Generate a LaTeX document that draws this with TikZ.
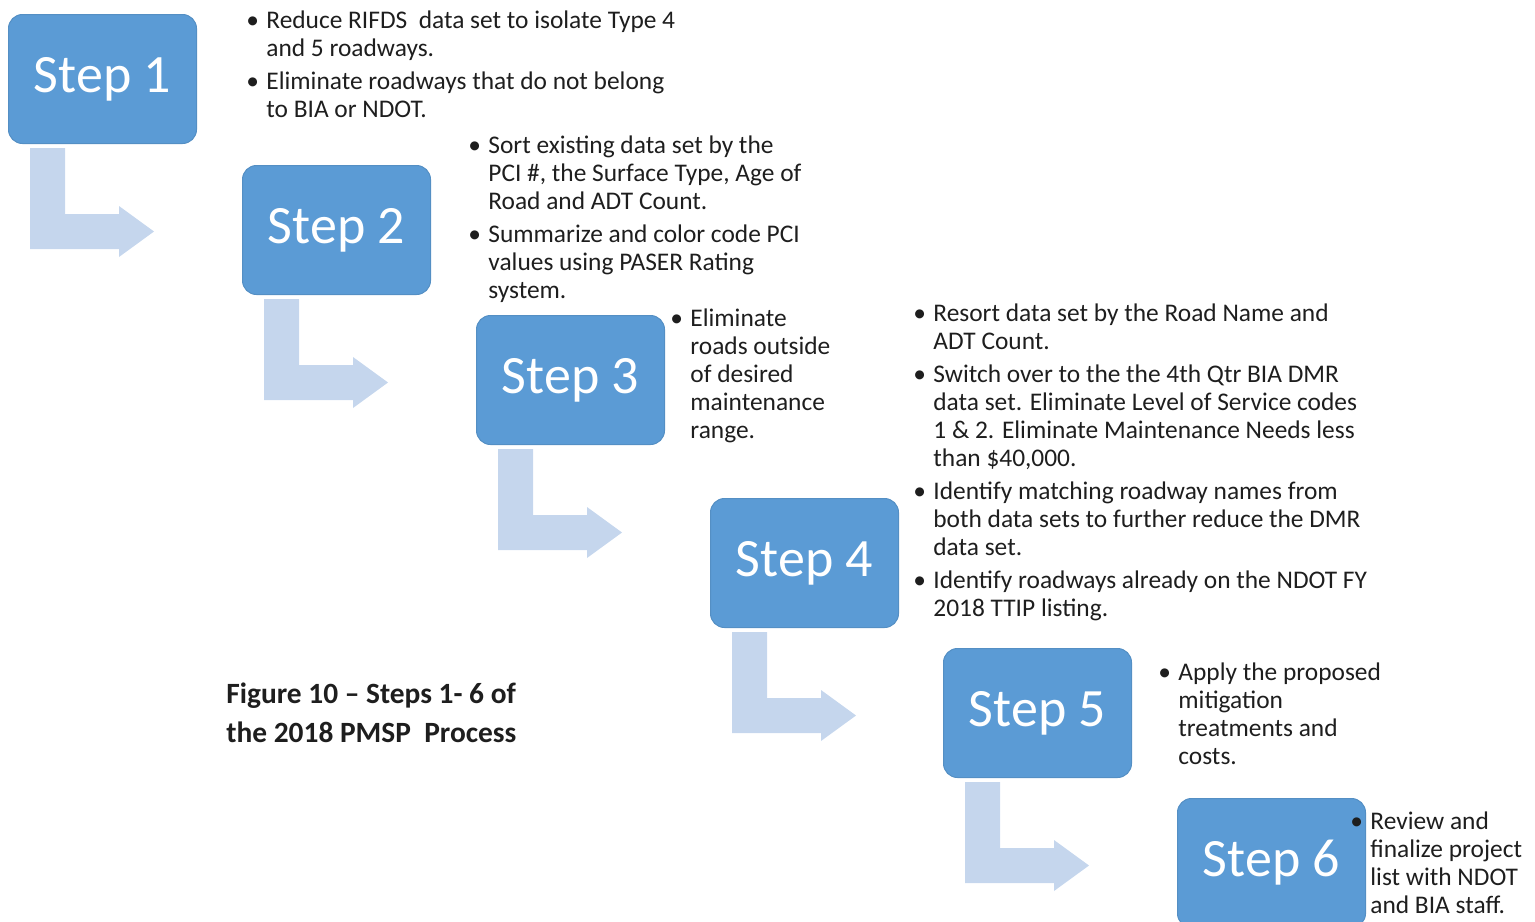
\documentclass[tikz,border=0pt]{standalone}
\usepackage{fontspec}
\setmainfont{Carlito}
\usetikzlibrary{positioning, calc}

\definecolor{stepblue}{RGB}{91,155,213}
\definecolor{arrowblue}{RGB}{197,214,237}
\definecolor{notegray}{RGB}{30,30,30}

\newcommand{\bodyfont}{\fontsize{12.7}{14}\selectfont}
\newcommand{\dotmark}{\hspace*{-2pt}\textbullet}

\begin{document}
\begin{tikzpicture}[
		% Estilos de las cajas y textos
		stepbox/.style = {rectangle, fill=stepblue, draw=stepblue!92!black, line width=0.5pt, rounded corners=7pt, minimum width=94pt, minimum height=64.5pt, inner sep=0pt, text=white, font=\fontsize{27}{32}\selectfont},
		notes/.style = {inner sep=0pt, anchor=base west, font=\bodyfont, text=notegray},
		figcaption/.style = {inner sep=0pt, anchor=base west, font=\fontsize{14.7}{19.5}\selectfont\bfseries, text=notegray},
		% Flecha en L bajo cada paso
		bendarrow/.pic = {
			\fill[arrowblue] (11pt,-2pt) -- (28.5pt,-2pt) -- (28.5pt,-35pt) -- (55.5pt,-35pt) -- (55.5pt,-31pt)
				-- (73pt,-43.75pt) -- (55.5pt,-56.5pt) -- (55.5pt,-52.5pt) -- (11pt,-52.5pt) -- cycle;
		}
		]
		
		\useasboundingbox (0,0) rectangle (767.5pt,-460.5pt);
		
		% --- PASOS (ESCALERA) ---
		\node [stepbox, anchor=north west] (step1) at (4pt,-7pt) {Step 1};
		\node [stepbox, below right=10.5pt and 22.5pt of step1] (step2) {Step 2};
		\node [stepbox, below right=10pt and 22.5pt of step2] (step3) {Step 3};
		\node [stepbox, below right=26.5pt and 22.5pt of step3] (step4) {Step 4};
		\node [stepbox, below right=10pt and 22pt of step4] (step5) {Step 5};
		\node [stepbox, below right=10pt and 22.5pt of step5] (step6) {Step 6};
		
		% --- FLECHAS ---
		\pic at (step1.south west) {bendarrow};
		\pic at (step2.south west) {bendarrow};
		\pic at (step3.south west) {bendarrow};
		\pic at (step4.south west) {bendarrow};
		\pic at (step5.south west) {bendarrow};
		
		% --- TEXTOS DE CADA PASO ---
		\node [right=26.5pt of step1.north east, notes, yshift=-7pt] (note1) {\begin{tabular}[t]{@{}p{8pt}@{}l@{}}
				\dotmark & Reduce RIFDS\ \ data set to isolate Type 4\\
				& and 5 roadways.\\[2.5pt]
				\dotmark & Eliminate roadways that do not belong\\
				& to BIA or NDOT.
			\end{tabular}};
		
		\node [right=20.5pt of step2.north east, notes, yshift=6pt] (note2) {\begin{tabular}[t]{@{}p{8pt}@{}l@{}}
				\dotmark & Sort existing data set by the\\
				& PCI \#, the Surface Type, Age of\\
				& Road and ADT Count.\\[2.5pt]
				\dotmark & Summarize and color code PCI\\
				& values using PASER Rating\\
				& system.
			\end{tabular}};
		
		\node [right=4.5pt of step3.north east, notes, yshift=-5.5pt] (note3) {\begin{tabular}[t]{@{}p{8pt}@{}l@{}}
				\dotmark & Eliminate\\
				& roads outside\\
				& of desired\\
				& maintenance\\
				& range.
			\end{tabular}};
		
		\node [right=9pt of step4.north east, notes, yshift=88.5pt] (note4) {\begin{tabular}[t]{@{}p{8pt}@{}l@{}}
				\dotmark & Resort data set by the Road Name and\\
				& ADT Count.\\[2.5pt]
				\dotmark & Switch over to the the 4th Qtr BIA DMR\\
				& data set. Eliminate Level of Service codes\\
				& 1 \& 2. Eliminate Maintenance Needs less\\
				& than \$40,000.\\[2.5pt]
				\dotmark & Identify matching roadway names from\\
				& both data sets to further reduce the DMR\\
				& data set.\\[2.5pt]
				\dotmark & Identify roadways already on the NDOT FY\\
				& 2018 TTIP listing.
			\end{tabular}};
		
		\node [right=15pt of step5.north east, notes, yshift=-16pt] (note5) {\begin{tabular}[t]{@{}p{8pt}@{}l@{}}
				\dotmark & Apply the proposed\\
				& mitigation\\
				& treatments and\\
				& costs.
			\end{tabular}};
		
		\node [right=-6pt of step6.north east, notes, yshift=-15.5pt] (note6) {\begin{tabular}[t]{@{}p{8pt}@{}l@{}}
				\dotmark & Review and\\
				& finalize project\\
				& list with NDOT\\
				& and BIA staff.
			\end{tabular}};
		
		% --- PIE DE FIGURA ---
		\node [figcaption] (caption) at (113pt,-351.5pt) {\begin{tabular}[t]{@{}l@{}}
				Figure 10 -- Steps 1- 6 of\\
				the 2018 PMSP\ \ Process
			\end{tabular}};
		
	\end{tikzpicture}
\end{document}
